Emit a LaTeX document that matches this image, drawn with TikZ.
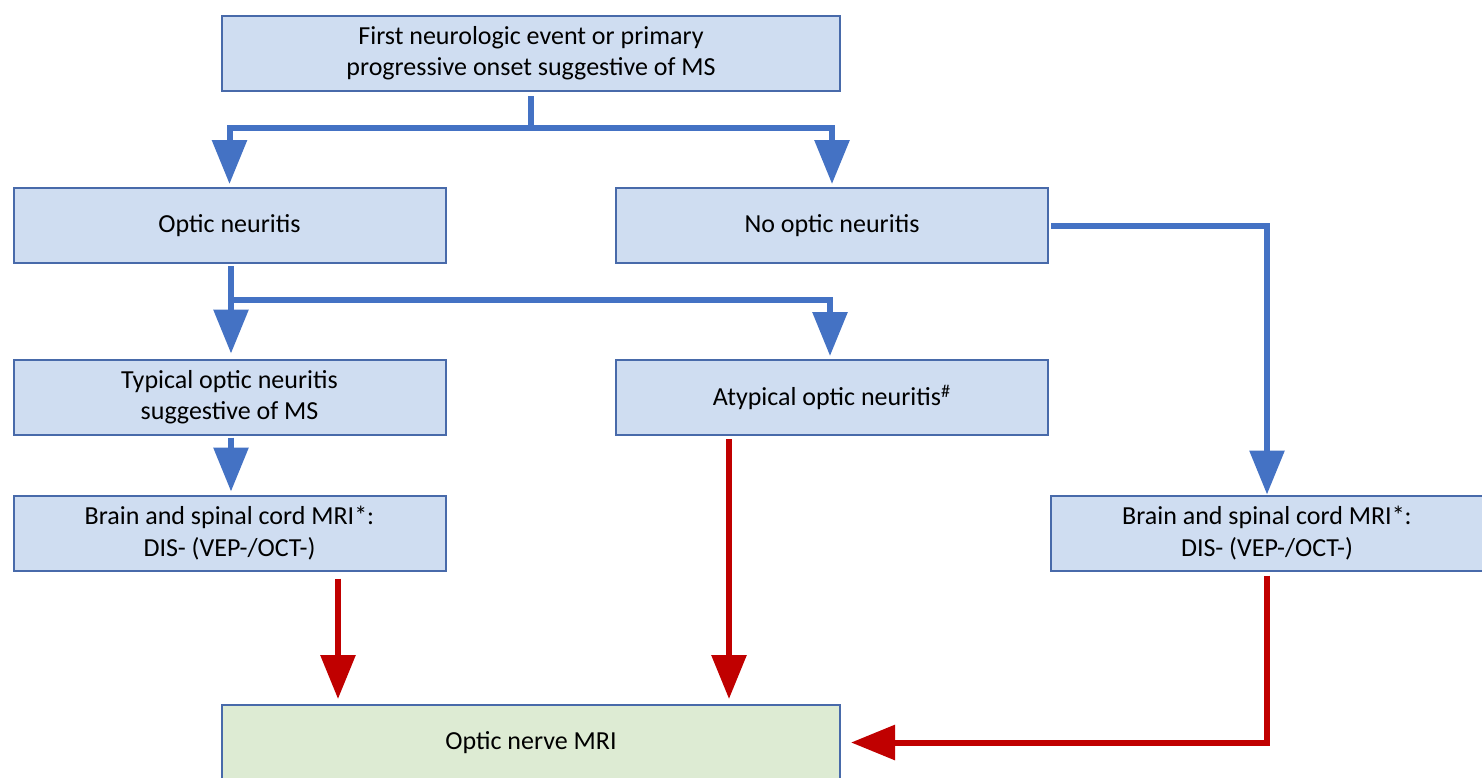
\documentclass[tikz,border=0pt]{standalone}
\usepackage{fontspec}
\setmainfont{Carlito}
\usepackage{tikz}
\usetikzlibrary{arrows.meta,positioning,calc}
\definecolor{boxblue}{RGB}{207,221,241}
\definecolor{boxedge}{RGB}{72,106,170}
\definecolor{flowblue}{RGB}{68,114,196}
\definecolor{flowred}{RGB}{192,0,0}
\definecolor{boxgreen}{RGB}{221,235,211}

\begin{document}
\begin{tikzpicture}[x=0.5pt,y=0.5pt,>={Triangle[length=22pt,width=17pt]},
  stepbox/.style={draw=boxedge,line width=1pt,fill=boxblue,align=center,
    minimum width=216pt,minimum height=37.5pt,inner sep=0pt,
    font=\fontsize{13}{15.6}\selectfont},
  bluearrow/.style={flowblue,line width=3pt,->},
  redarrow/.style={flowred,line width=3pt,->}]
  \clip (0,0) rectangle (1482,-777);
  \fill[white] (0,0) rectangle (1482,-777);

  \node[stepbox,minimum width=309pt] (first) at (531,-53.5) {First neurologic event or primary\\progressive onset suggestive of MS};
  \node[stepbox] (optic) at (229.5,-225.5) {Optic neuritis};
  \node[stepbox] (noon) at (832,-225.5) {No optic neuritis};
  \node[stepbox] (typical) at (229.5,-397) {Typical optic neuritis\\suggestive of MS};
  \node[stepbox] (atypical) at (832,-397.5) {Atypical optic neuritis\textsuperscript{\#}};
  \node[stepbox] (brainl) at (229.5,-533) {Brain and spinal cord MRI*:\\DIS- (VEP-/OCT-)};
  \node[stepbox] (brainr) at (1267,-533) {Brain and spinal cord MRI*:\\DIS- (VEP-/OCT-)};
  \node[stepbox,fill=boxgreen,minimum width=309pt] (mri) at (531,-742.5) {Optic nerve MRI};

  \coordinate (split1) at (531,-128);
  \coordinate (split2) at (231,-300);
  \coordinate (redl) at (338,0);
  \coordinate (redm) at (729,0);

  % blue branches
  \draw[flowblue,line width=3pt,shorten <=2pt] (first) -- (split1);
  \draw[bluearrow,shorten >=1.5pt] (split1) -| (optic);
  \draw[bluearrow,shorten >=1.5pt] (split1) -| (noon);
  \draw[bluearrow,shorten <=1pt,shorten >=2.5pt] (optic.south -| split2) -- (typical.north -| split2);
  \draw[bluearrow,shorten >=1.5pt] (split2) -| ([xshift=-1pt]atypical.north);
  \draw[bluearrow,shorten <=1pt] (noon) -| (brainr);
  \draw[bluearrow,shorten <=1pt,shorten >=1.5pt] (typical.south -| split2) -- (brainl.north -| split2);

  % red arrows to optic nerve MRI
  \draw[redarrow,shorten <=3.5pt,shorten >=2.5pt] (brainl.south -| redl) -- (mri.north -| redl);
  \draw[redarrow,shorten <=1.5pt,shorten >=2.5pt] (atypical.south -| redm) -- (mri.north -| redm);
  \draw[redarrow,shorten <=2pt,shorten >=5pt] (brainr) |- (mri);
\end{tikzpicture}
\end{document}
